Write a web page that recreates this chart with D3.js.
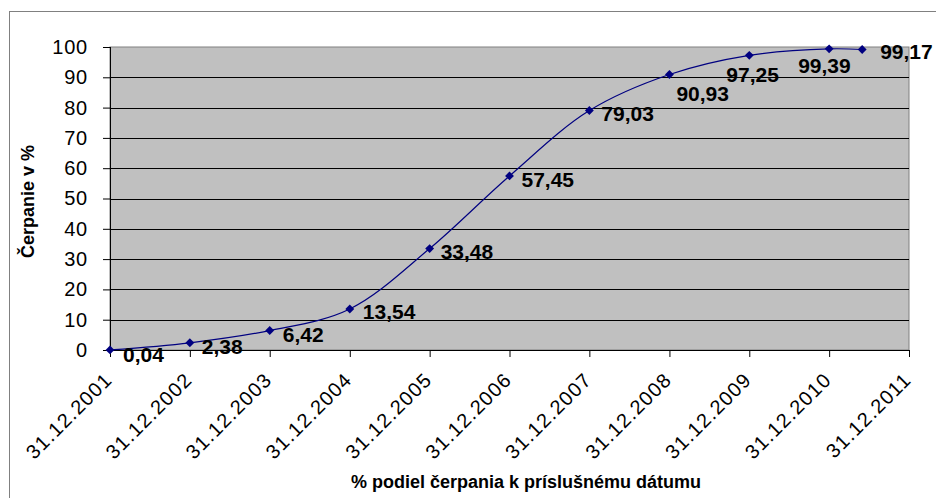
<!DOCTYPE html>
<html lang="sk">
<head>
<meta charset="UTF-8">
<title>Čerpanie v %</title>
<style>
  body { margin: 0; background: #fff; }
  svg { display: block; font-family: Arial, "Liberation Sans", sans-serif; }
  .plot { fill: #c0c0c0; stroke: #808080; }
  .grid line { stroke: #000; }
  .axis path, .axis line { stroke: #000; }
  .axis text { font-size: 20px; fill: #000; letter-spacing: 0.8px; }
  .xax text { letter-spacing: 1.2px; }
  .lbl { font-size: 21px; font-weight: bold; fill: #000; }
  .title { font-size: 18px; font-weight: bold; fill: #000; }
</style>
<script src="https://cdn.jsdelivr.net/npm/d3@7"></script>
</head>
<body>
<svg id="chart" width="936" height="498"></svg>
<script>
// dátumy a hodnoty čerpania
const dates = ['31.12.2001', '31.12.2002', '31.12.2003', '31.12.2004', '31.12.2005', '31.12.2006',
               '31.12.2007', '31.12.2008', '31.12.2009', '31.12.2010', '31.05.2011'];
const values = [0.04, 2.38, 6.42, 13.54, 33.48, 57.45, 79.03, 90.93, 97.25, 99.39, 99.17];
const tickDates = ['31.12.2001', '31.12.2002', '31.12.2003', '31.12.2004', '31.12.2005', '31.12.2006',
                   '31.12.2007', '31.12.2008', '31.12.2009', '31.12.2010', '31.12.2011'];
const yTicks = [0, 10, 20, 30, 40, 50, 60, 70, 80, 90, 100];

// posun popiskov (ako v exceli, niektoré ručne posunuté)
const lblDx = [13, 12, 13, 13, 11, 12, 12, 7, -23, -31, 18];
const lblDy = [12, 11, 11, 10, 10, 11, 10, 27, 27, 24, 9];

const parse = d3.timeParse('%d.%m.%Y');
const svg = d3.select('#chart');

const mLeft = 110, mRight = 909, mTop = 47, mBottom = 350;

const x = d3.scaleTime()
  .domain([parse(tickDates[0]), parse(tickDates[tickDates.length - 1])])
  .range([mLeft, mRight]);
const y = d3.scaleLinear().domain([0, 100]).range([mBottom, mTop]);

// vonkajší rámik
svg.append('rect')
  .attr('x', 9.5).attr('y', 11.5)
  .attr('width', 940).attr('height', 500)
  .attr('fill', 'none').attr('stroke', '#808080');

svg.append('rect').attr('class', 'plot')
  .attr('x', mLeft).attr('y', mTop)
  .attr('width', mRight - mLeft).attr('height', mBottom - mTop);

svg.append('g').attr('class', 'grid')
  .selectAll('line')
  .data(yTicks.filter(t => t > 0 && t < 100))
  .join('line')
  .attr('x1', mLeft).attr('x2', mRight)
  .attr('y1', d => Math.round(y(d)) + 0.5).attr('y2', d => Math.round(y(d)) + 0.5);

const yAxis = svg.append('g').attr('class', 'axis')
  .attr('transform', `translate(${mLeft},0)`)
  .call(d3.axisLeft(y).tickValues(yTicks).tickSize(7).tickPadding(15));
yAxis.select('.domain').remove();
yAxis.append('line').attr('x1', 0.5).attr('x2', 0.5).attr('y1', mTop).attr('y2', mBottom).attr('stroke', '#000');

const xAxis = svg.append('g').attr('class', 'axis xax')
  .attr('transform', `translate(0,${mBottom})`)
  .call(d3.axisBottom(x).tickValues(tickDates.map(parse)).tickSize(7)
    .tickFormat(d3.timeFormat('%d.%m.%Y')));
xAxis.select('.domain').attr('d', `M${mLeft},0.5H${mRight}`);
xAxis.selectAll('text')
  .attr('text-anchor', 'end')
  .attr('x', 0).attr('y', 0).attr('dy', 0)
  .attr('transform', 'translate(3,31) rotate(-45)');

const pts = dates.map((d, i) => ({ date: parse(d), v: values[i] }));

svg.append('path')
  .datum(pts)
  .attr('fill', 'none')
  .attr('stroke', '#000080')
  .attr('stroke-width', 1.2)
  .attr('d', d3.line().x(d => x(d.date)).y(d => y(d.v)).curve(d3.curveCatmullRom.alpha(0.5)));

svg.append('g').selectAll('path')
  .data(pts)
  .join('path')
  .attr('d', d3.symbol(d3.symbolDiamond2, 50))
  .attr('transform', d => `translate(${x(d.date)},${y(d.v)})`)
  .attr('fill', '#000080');

svg.append('g').selectAll('text')
  .data(pts)
  .join('text')
  .attr('class', 'lbl')
  .attr('x', (d, i) => x(d.date) + lblDx[i])
  .attr('y', (d, i) => y(d.v) + lblDy[i])
  .text(d => d3.format('.2f')(d.v).replace('.', ','));

svg.append('text').attr('class', 'title')
  .attr('transform', `translate(34,${(mTop + mBottom) / 2 + 3}) rotate(-90)`)
  .attr('text-anchor', 'middle')
  .text('Čerpanie v %');

svg.append('text').attr('class', 'title')
  .attr('x', 526).attr('y', 488)
  .attr('text-anchor', 'middle')
  .text('% podiel čerpania k príslušnému dátumu');
</script>
</body>
</html>
